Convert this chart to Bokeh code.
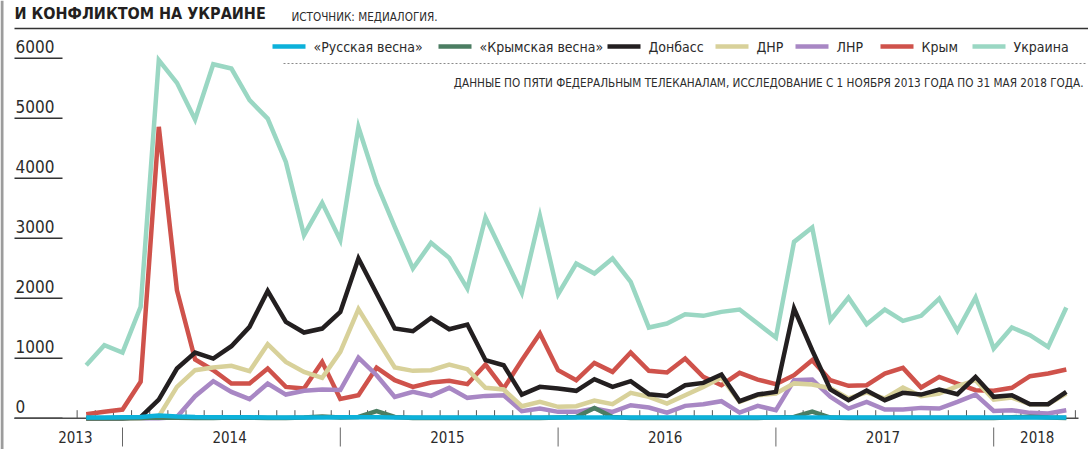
from bokeh.plotting import figure
from bokeh.models import Range1d
from bokeh.core.properties import value
from bokeh.embed import file_html
from bokeh.resources import INLINE

# ---------------- data (monthly, Nov 2013 .. May 2018) ----------------
months = (["2013-11", "2013-12"]
          + [f"{y}-{m:02d}" for y in (2014, 2015, 2016, 2017) for m in range(1, 13)]
          + [f"2018-{m:02d}" for m in range(1, 6)])

russkaya_vesna = [10, 12, 15, 22, 45, 28, 18, 15, 14, 14, 13, 13, 12, 12, 14, 16, 14, 12, 12, 12,
                  12, 12, 12, 12, 12, 12, 12, 12, 12, 12, 12, 12, 12, 12, 12, 12, 12, 12, 12, 12,
                  12, 12, 12, 12, 12, 12, 12, 12, 12, 12, 12, 12, 12, 12, 12]
krymskaya_vesna = [0, 0, 0, 5, 10, 8, 5, 5, 10, 8, 5, 5, 10, 30, 10, 20, 120, 20, 5, 5,
                   5, 5, 5, 5, 5, 5, 10, 20, 170, 20, 5, 5, 5, 5, 5, 5, 5, 5, 10, 20,
                   110, 10, 5, 5, 5, 5, 5, 5, 5, 5, 5, 15, 25, 10, 5]
donbass = [0, 0, 0, 20, 311, 828, 1094, 994, 1200, 1522, 2122, 1606, 1428, 1494, 1772, 2661, 2078, 1494, 1450, 1672,
           1483, 1561, 967, 883, 394, 522, 494, 456, 650, 522, 617, 400, 372, 550, 589, 728, 283, 394, 439, 1828,
           1133, 478, 300, 460, 300, 422, 394, 478, 400, 689, 356, 383, 233, 233, 439]
dnr = [0, 0, 0, 0, 30, 522, 800, 844, 872, 783, 1233, 939, 772, 672, 1106, 1817, 1328, 844, 789, 800,
       894, 817, 506, 478, 200, 272, 189, 200, 295, 233, 422, 356, 244, 383, 522, 680, 272, 383, 411, 580,
       560, 500, 330, 430, 328, 511, 367, 411, 533, 633, 311, 344, 233, 233, 411]
lnr = [0, 0, 0, 0, 0, 20, 367, 617, 439, 317, 578, 394, 456, 478, 470, 1011, 717, 356, 439, 372,
       506, 339, 372, 383, 117, 161, 106, 106, 160, 106, 217, 178, 94, 206, 233, 283, 94, 206, 133, 633,
       644, 356, 161, 272, 144, 144, 172, 161, 272, 394, 122, 133, 89, 78, 133]
krym = [67, 106, 144, 606, 4856, 2133, 978, 800, 578, 578, 828, 522, 494, 939, 320, 383, 844, 633, 522, 594,
        622, 567, 894, 494, 967, 1411, 800, 633, 922, 772, 1094, 789, 761, 994, 689, 550, 756, 644, 567, 717,
        967, 633, 539, 550, 744, 839, 511, 689, 578, 467, 456, 506, 700, 744, 811]
ukraina = [883, 1217, 1095, 1856, 5967, 5589, 4978, 5900, 5828, 5300, 4994, 4272, 3050, 3589, 2967, 4850, 3911, 3189, 2494, 2922,
           2672, 2161, 3344, 2717, 2089, 3367, 2067, 2578, 2411, 2661, 2272, 1511, 1578, 1733, 1706, 1772, 1811, 1578, 1344, 2939,
           3178, 1633, 2011, 1567, 1811, 1622, 1706, 1994, 1456, 2011, 1161, 1511, 1383, 1189, 1844]

series_names = ["«Русская весна»", "«Крымская весна»", "Донбасс", "ДНР", "ЛНР", "Крым", "Украина"]
series_values = [russkaya_vesna, krymskaya_vesna, donbass, dnr, lnr, krym, ukraina]
series_colors = ["#0cb1da", "#4b7d62", "#231f20", "#d8d19a", "#a887c4", "#cf524b", "#9ad7c3"]

y_ticks = [0, 1000, 2000, 3000, 4000, 5000, 6000]
year_labels = ["2013", "2014", "2015", "2016", "2017", "2018"]

title_text = "И КОНФЛИКТОМ НА УКРАИНЕ"
source_text = "ИСТОЧНИК: МЕДИАЛОГИЯ."
note_text = "ДАННЫЕ ПО ПЯТИ ФЕДЕРАЛЬНЫМ ТЕЛЕКАНАЛАМ, ИССЛЕДОВАНИЕ С 1 НОЯБРЯ 2013 ГОДА ПО 31 МАЯ 2018 ГОДА."

# ---------------- layout helpers (page pixels -> data) ----------------
PX0, DX = 85.7, 18.15      # page x of first month, px per month
PY0, DY = 417.7, 0.06      # page y of zero, px per unit


def ax(px):
    return (px - PX0) / DX


def ay(py):
    return (PY0 - py) / DY


W, H = 1088, 449
p = figure(width=W, height=H, output_backend="svg", toolbar_location=None,
           x_range=Range1d(ax(0), ax(W)), y_range=Range1d(ay(H), ay(0)),
           min_border=0, x_axis_location=None, y_axis_location=None)
p.title = None
p.outline_line_color = None
p.xgrid.visible = False
p.ygrid.visible = False
p.background_fill_color = "white"
p.border_fill_color = "white"

COND = value("DejaVu Sans Condensed")
TXT = "#2b2b2b"

# left page border
p.segment(x0=[ax(1.5)], y0=[ay(0)], x1=[ax(1.5)], y1=[ay(449)], line_color="#9c9c9c", line_width=3)

# title block
p.text(x=[ax(14)], y=[ay(12.8)], text=[title_text], text_font=COND, text_font_style="bold",
       text_font_size="16px", text_color="#231f20", text_baseline="middle")
p.text(x=[ax(291)], y=[ay(16.2)], text=[source_text], text_font=COND,
       text_font_size="11.6px", text_color=TXT, text_baseline="middle")
p.segment(x0=[ax(14)], y0=[ay(28)], x1=[ax(1088)], y1=[ay(28)], line_color="#333333", line_width=1.5)

# y tick labels with short underlines (label centre 12px above its underline)
lab_gap = 12.0 / DY
p.segment(x0=[ax(14)] * len(y_ticks), y0=y_ticks, x1=[ax(62)] * len(y_ticks), y1=y_ticks,
          line_color="#333333", line_width=1.5)
p.text(x=[ax(15)] * len(y_ticks), y=[v + lab_gap for v in y_ticks], text=[str(v) for v in y_ticks],
       text_font=COND, text_font_size="17px", text_color=TXT, text_baseline="middle")

# x baseline, month ticks, year separators, year labels
n = len(months)
p.segment(x0=[ax(14)], y0=[0], x1=[ax(1078)], y1=[0], line_color="#4d4d4d", line_width=1.5)
tick_x = [i - 0.5 for i in range(n + 1)]
p.segment(x0=tick_x, y0=[0] * len(tick_x), x1=tick_x, y1=[ay(409.7)] * len(tick_x),
          line_color="#555555", line_width=1)
jan_idx = [i for i, m in enumerate(months) if m.endswith("-01")]
p.segment(x0=jan_idx, y0=[ay(427)] * len(jan_idx), x1=jan_idx, y1=[ay(446)] * len(jan_idx),
          line_color="#666666", line_width=1)
year_x = []
for yl in year_labels:
    idx = [i for i, m in enumerate(months) if m.startswith(yl)]
    c = sum(idx) / len(idx)
    year_x.append(c - 1.1 if yl == "2013" else c + 0.4)
p.text(x=year_x, y=[ay(436)] * len(year_x), text=year_labels, text_font=COND,
       text_font_size="15px", text_color=TXT, text_align="center", text_baseline="middle")

# data lines (background first)
xs = list(range(n))
for vals, col in list(zip(series_values, series_colors))[::-1]:
    p.line(x=xs, y=vals, line_color=col, line_width=4.5, line_join="miter")

# legend (manual, horizontal)
leg_x0 = [272, 438, 607, 715, 795, 880, 972]
leg_y = ay(46)
for name, col, lx in zip(series_names, series_colors, leg_x0):
    p.segment(x0=[ax(lx)], y0=[leg_y], x1=[ax(lx + 33)], y1=[leg_y], line_color=col, line_width=4.5)
    p.text(x=[ax(lx + 41)], y=[leg_y], text=[name], text_font=COND, text_font_size="14px",
           text_color=TXT, text_baseline="middle")
p.segment(x0=[ax(283)], y0=[ay(63)], x1=[ax(1086)], y1=[ay(63)], line_color="#8a8a8a",
          line_width=1, line_dash="2 2")
p.text(x=[ax(1083)], y=[ay(82.5)], text=[note_text], text_font=COND, text_font_size="11.65px",
       text_color=TXT, text_align="right", text_baseline="middle")

open("out.html", "w").write(file_html(p, INLINE))
